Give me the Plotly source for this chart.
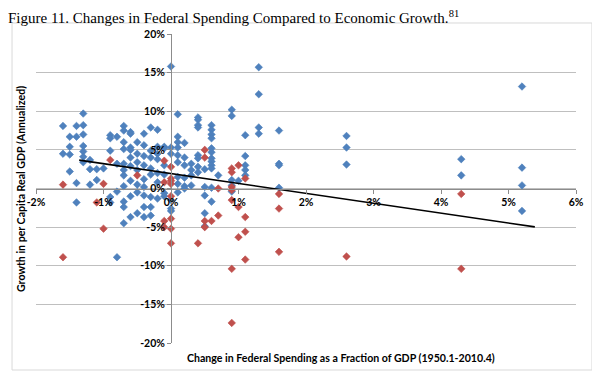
import plotly.graph_objects as go

# ---- data (percent units) ----
blue_cols = [-1.6, -1.5, -1.4, -1.3, -1.2, -1.1, -1.0, -0.9, -0.8, -0.7, -0.6, -0.5,
             -0.4, -0.3, -0.2, -0.1, 0.0, 0.1, 0.2, 0.3, 0.4, 0.5, 0.6, 0.7, 0.9,
             1.0, 1.1, 1.3, 1.6, 2.6, 4.3, 5.2]
blue_vals = [
    [8.1, 4.5],
    [6.7, 5.4, 4.4, 2.2],
    [8.1, 6.7, 0.7, -1.8],
    [9.7, 8.2, 7.0, 5.5, 4.8, 4.1, 3.4],
    [3.7, 2.5, 0.5],
    [2.5, 1.1],
    [2.6],
    [6.9, 6.5, 4.9, -1.1, -1.8],
    [6.7, 3.2, -0.4, -8.9],
    [8.1, 7.5, 6.0, 5.1, 3.2, 2.4, 1.7, 0.3, -1.7, -2.4, -4.5],
    [7.3, 7.1, 5.3, 5.0, 4.0, 2.9, 1.0, -1.0, -3.7],
    [6.0, 4.5, 3.4, 2.4, 0.5, -0.5, -3.2],
    [7.1, 5.6, 4.2, 3.0, 1.2, 0.2, -0.9, -2.4, -3.7],
    [7.9, 4.9, 4.0, 2.6, 1.8, -1.1, -2.4, -3.5],
    [7.6, 5.4, 4.5, 3.8, 2.0, 0.8, -1.3],
    [5.4, 5.2, 3.0, 1.8, -0.6, -1.0],
    [15.8, 5.3, 4.5, -1.5, -2.6, -2.9],
    [9.6, 6.7, 6.0, 5.3, 4.3, 3.4, 1.5, 0.6, -0.5],
    [5.9, 4.0, 3.0, 1.4, 0.3, 0.0],
    [3.2, 2.4, 1.7, 0.4],
    [9.2, 8.9, 8.2, 7.9, 4.3, 3.9, 2.8, 2.1],
    [2.5, 0.2, -0.9, -3.2, -4.9],
    [8.2, 7.6, 7.0, 6.5, 5.2, 4.7, 3.9, 3.5, 3.0, 2.6, 0.1, -1.7],
    [1.7],
    [10.2, 9.4, 1.1, 0.4, -0.4],
    [1.0],
    [6.9, 4.2, 3.0, 2.4, 1.7],
    [15.7, 12.2, 7.9, 7.1],
    [7.5, 3.2, 3.0, 0.1],
    [6.8, 5.3, 3.1],
    [3.8, 1.7],
    [13.2, 2.7, 0.4, -2.9],
]

red_cols = [-1.6, -1.1, -1.0, -0.9, -0.5, -0.1, 0.0, 0.4, 0.5, 0.6, 0.7, 0.9,
            1.0, 1.1, 1.6, 2.6, 4.3]
red_vals = [
    [0.5, -8.9],
    [-1.8],
    [0.6, -5.2],
    [3.7],
    [1.7],
    [3.6, 0.8, -4.2, -5.0],
    [2.8, 1.3, 1.0, 0.6, -1.0, -3.9, -5.2, -7.1],
    [-7.1],
    [5.0, 4.0, -4.2, -5.0],
    [-4.2],
    [0.0, -3.5],
    [2.6, 2.1, 0.2, -0.2, -1.5, -10.4, -17.4],
    [3.0, -2.4, -6.3],
    [1.3, -3.7, -5.6, -9.2],
    [-0.7, -2.6, -8.2],
    [-8.8],
    [-0.7, -10.4],
]

trend_x = [-1.36, 5.39]
trend_y = [3.67, -4.97]

x_ticks = [-2, -1, 0, 1, 2, 3, 4, 5, 6]
x_labels = ["-2%", "-1%", "0%", "1%", "2%", "3%", "4%", "5%", "6%"]
y_ticks = [-20, -15, -10, -5, 0, 5, 10, 15, 20]
y_labels = ["-20%", "-15%", "-10%", "-5%", "0%", "5%", "10%", "15%", "20%"]

title_text = "Figure 11. Changes in Federal Spending Compared to Economic Growth.<sup>81</sup>"
x_title = "Change in Federal Spending as a Fraction of GDP (1950.1-2010.4)"
y_title = "Growth in per Capita Real GDP (Annualized)"


def expand(cols, vals):
    xs, ys = [], []
    for c, v in zip(cols, vals):
        for y in v:
            xs.append(c)
            ys.append(y)
    return xs, ys


bx, by = expand(blue_cols, blue_vals)
rx, ry = expand(red_cols, red_vals)

fig = go.Figure()
fig.add_trace(go.Scatter(x=bx, y=by, mode="markers",
                         marker=dict(symbol="diamond", size=5.8, color="#4F81BD",
                                     line=dict(width=0.6, color="#4A7EBB")),
                         showlegend=False))
fig.add_trace(go.Scatter(x=rx, y=ry, mode="markers",
                         marker=dict(symbol="diamond", size=5.8, color="#C0504D",
                                     line=dict(width=0.6, color="#BE4B48")),
                         showlegend=False))
fig.add_trace(go.Scatter(x=trend_x, y=trend_y, mode="lines",
                         line=dict(color="black", width=1.6), showlegend=False))

tick_font = dict(family="Lato", size=10.5, color="black", weight=700)

# The page body adds an 8px offset, so the figure is sized 592x368 to fill 600x376.
fig.update_layout(
    width=592, height=368,
    margin=dict(l=28, r=24, t=26, b=33),
    paper_bgcolor="white", plot_bgcolor="white",
    title=dict(text=title_text, x=0.0, xanchor="left", y=0.974, yanchor="middle",
               pad=dict(t=0, b=0, l=0, r=0),
               font=dict(family="Liberation Serif", size=15, color="black")),
    xaxis=dict(range=[-2, 6], tickvals=x_ticks, ticktext=x_labels,
               showgrid=False, zeroline=False, showline=True,
               linecolor="#8c8c8c", linewidth=1,
               anchor="free", position=0.5,
               ticks="outside", ticklen=4, tickcolor="#8c8c8c",
               tickfont=tick_font),
    yaxis=dict(range=[-20, 20], tickvals=y_ticks, ticktext=y_labels,
               showgrid=True, gridcolor="#bfbfbf", gridwidth=1,
               zeroline=False, showline=True,
               linecolor="#8c8c8c", linewidth=1,
               anchor="free", position=0.25,
               ticks="outside", ticklen=4, tickcolor="#8c8c8c",
               tickfont=tick_font),
    annotations=[
        dict(text="<b>" + x_title + "</b>", xref="paper", yref="paper",
             x=0.565, y=-0.0485, xanchor="center", yanchor="middle", showarrow=False,
             font=dict(family="Lato", size=10.6, color="black")),
        dict(text="<b>" + y_title + "</b>", xref="paper", yref="paper",
             x=-0.028, y=0.498, xanchor="center", yanchor="middle", showarrow=False,
             textangle=-90, font=dict(family="Lato", size=10.6, color="black")),
    ],
    shapes=[
        dict(type="rect", xref="paper", yref="paper",
             x0=-0.0444, x1=1.0296, y0=-0.0874, y1=1.0356,
             line=dict(color="#d9d9d9", width=1), fillcolor="rgba(0,0,0,0)",
             layer="below"),
    ],
)

fig.write_html("out.html")
